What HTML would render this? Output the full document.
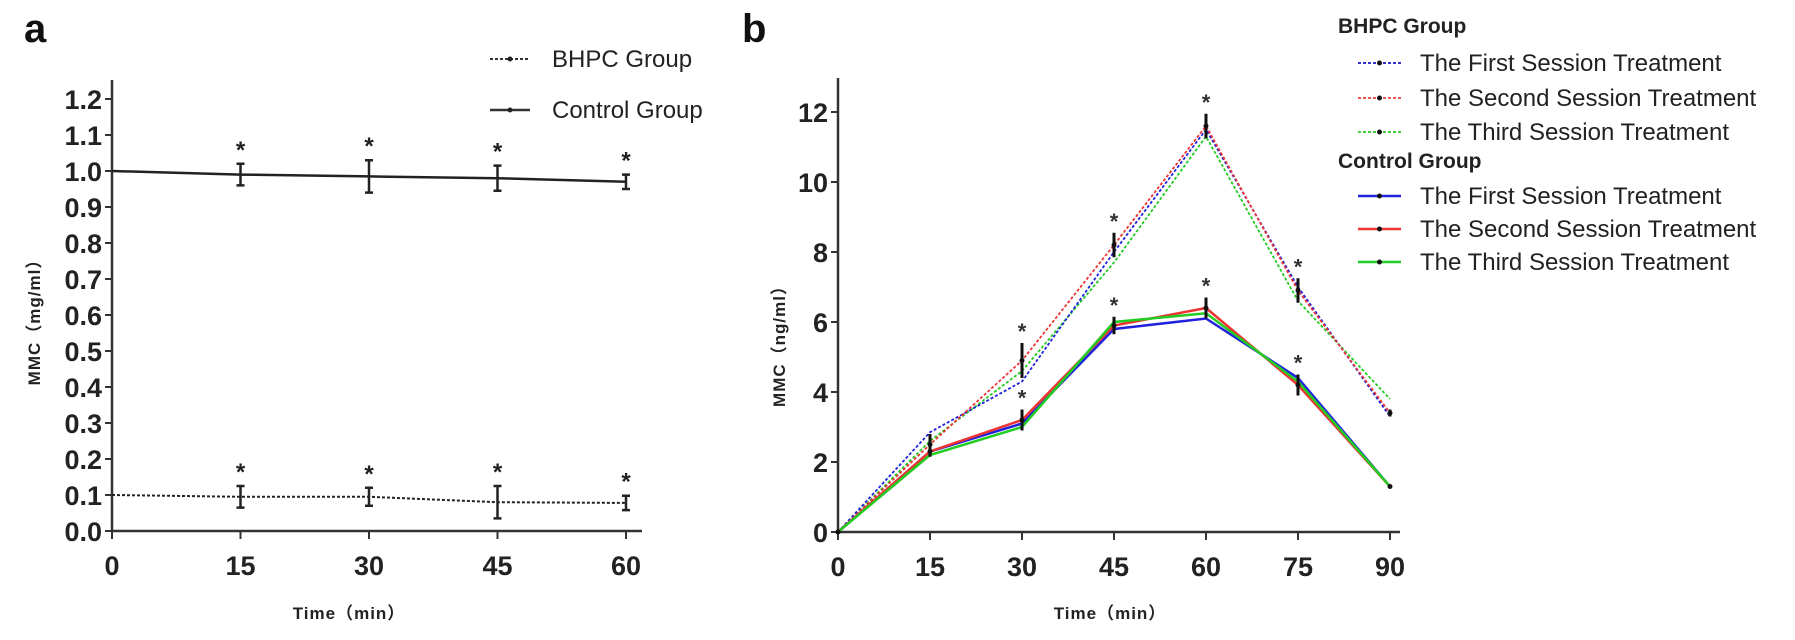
<!DOCTYPE html>
<html><head><meta charset="utf-8"><style>
html,body{margin:0;padding:0;background:#fff;}
svg{display:block;}
.tk{font-family:"Liberation Sans Narrow","Liberation Sans",sans-serif;font-weight:bold;font-size:27px;fill:#222;}
.ttl{font-family:"Liberation Sans","Noto Sans CJK SC",sans-serif;font-weight:bold;font-size:17px;fill:#222;letter-spacing:1px;}
.lg{font-family:"Liberation Sans Narrow","Liberation Sans",sans-serif;font-size:24px;fill:#222;}
.lgb{font-family:"Liberation Sans Narrow","Liberation Sans",sans-serif;font-size:21px;font-weight:bold;fill:#222;}
.pl{font-family:"Liberation Sans",sans-serif;font-weight:bold;font-size:40px;fill:#111;}
</style></head><body>
<svg id="chart" width="1795" height="640" viewBox="0 0 1795 640" xmlns="http://www.w3.org/2000/svg">
<text class="pl" x="24" y="42">a</text>
<text class="pl" x="742" y="42">b</text>
<g id="pa"></g>
<g id="pb"></g>
</svg>
<script>
// ---------- Panel A data ----------
const aTimes = [0, 15, 30, 45, 60];
const aYTicks = [0.0,0.1,0.2,0.3,0.4,0.5,0.6,0.7,0.8,0.9,1.0,1.1,1.2];
const aControl = [1.0, 0.99, 0.985, 0.98, 0.97];
const aControlErr = [0, 0.03, 0.045, 0.035, 0.02];
const aBhpc = [0.1, 0.095, 0.095, 0.08, 0.078];
const aBhpcErr = [0, 0.03, 0.025, 0.045, 0.02];
const aStars = [false, true, true, true, true];
// ---------- Panel B data ----------
const bTimes = [0, 15, 30, 45, 60, 75, 90];
const bYTicks = [0, 2, 4, 6, 8, 10, 12];
const bBhpc1 = [0, 2.85, 4.3, 8.0, 11.5, 7.0, 3.3];
const bBhpc2 = [0, 2.5, 4.9, 8.2, 11.6, 6.9, 3.4];
const bBhpc3 = [0, 2.6, 4.6, 7.7, 11.3, 6.6, 3.8];
const bCtrl1 = [0, 2.3, 3.1, 5.8, 6.1, 4.4, 1.3];
const bCtrl2 = [0, 2.3, 3.2, 5.9, 6.4, 4.2, 1.3];
const bCtrl3 = [0, 2.2, 3.0, 6.0, 6.25, 4.3, 1.3];
const bBhpcErr = [0, 0.3, 0.5, 0.35, 0.35, 0.35, 0.1];
const bCtrlErr = [0, 0.15, 0.3, 0.25, 0.3, 0.3, 0.05];
const bBhpcStars = [false, false, true, true, true, true, false];
const bCtrlStars = [false, false, true, true, true, true, false];

const NS = "http://www.w3.org/2000/svg";
function mk(parent, tag, attrs, text) {
  const e = document.createElementNS(NS, tag);
  for (const k in attrs) e.setAttribute(k, attrs[k]);
  if (text !== undefined) e.textContent = text;
  parent.appendChild(e);
  return e;
}

// ---------- Panel A ----------
(function(){
  const g = document.getElementById('pa');
  const X0 = 112, XS = 128.5/15, Y0 = 531, YS = 360;
  const xA = t => X0 + t * XS;
  const yA = v => Y0 - v * YS;
  let e = mk(g, 'line', {x1:X0, y1:80, x2:X0, y2:Y0, stroke:'#333','stroke-width':2.5});
   
  e = mk(g, 'line', {x1:X0, y1:Y0, x2:642, y2:Y0, stroke:'#333','stroke-width':2.5});
   
  aYTicks.forEach(v => {
    mk(g, 'line', {x1:X0-7, y1:yA(v), x2:X0, y2:yA(v), stroke:'#333','stroke-width':2});
    const t = mk(g, 'text', {class:'tk', x:X0-10, y:yA(v)+10, 'text-anchor':'end'}, v.toFixed(1));
     
  });
  aTimes.forEach(tm => {
    mk(g, 'line', {x1:xA(tm), y1:Y0, x2:xA(tm), y2:Y0+8, stroke:'#333','stroke-width':2});
    const t = mk(g, 'text', {class:'tk', x:xA(tm), y:Y0+44, 'text-anchor':'middle'}, String(tm));
     
  });
  let t = mk(g, 'text', {class:'ttl', x:349, y:619, 'text-anchor':'middle'}, 'Time（min）');
   
  t = mk(g, 'text', {class:'ttl', x:0, y:0, 'text-anchor':'middle', transform:'translate(40,318) rotate(-90)'}, 'MMC（mg/ml）');
   

  function series(vals, errs, dash, name) {
    const pts = vals.map((v,i) => xA(aTimes[i]) + ',' + yA(v)).join(' ');
    const pl = mk(g, 'polyline', {points:pts, fill:'none', stroke:'#222','stroke-width':dash?2:2.5,'stroke-dasharray':dash?'3,2':'none'});
     
    vals.forEach((v,i) => {
      if (errs[i] > 0) {
        const x = xA(aTimes[i]);
        const eb = mk(g, 'path', {d:`M${x},${yA(v+errs[i])}V${yA(v-errs[i])}M${x-4},${yA(v+errs[i])}h8M${x-4},${yA(v-errs[i])}h8`, stroke:'#222','stroke-width':2.5, fill:'none'});
         
      }
      if (aStars[i]) {
        const s = mk(g, 'text', {x:xA(aTimes[i]), y:yA(v+errs[i])-6, 'text-anchor':'middle', 'font-family':'Liberation Sans', 'font-size':'24', 'font-weight':'bold', fill:'#222'}, '*');
         
      }
    });
  }
  series(aControl, aControlErr, false, 'control');
  series(aBhpc, aBhpcErr, true, 'bhpc');

  // legend
  let l = mk(g, 'line', {x1:490, y1:59, x2:530, y2:59, stroke:'#333','stroke-width':2,'stroke-dasharray':'3,2'});
   
  mk(g, 'circle', {cx:510, cy:59, r:2.5, fill:'#222'});
  t = mk(g, 'text', {class:'lg', x:552, y:67}, 'BHPC Group');
   
  l = mk(g, 'line', {x1:490, y1:110, x2:530, y2:110, stroke:'#333','stroke-width':2.5});
   
  mk(g, 'circle', {cx:510, cy:110, r:2.5, fill:'#222'});
  t = mk(g, 'text', {class:'lg', x:552, y:118}, 'Control Group');
   
})();

// ---------- Panel B ----------
(function(){
  const g = document.getElementById('pb');
  const X0 = 838, XS = 92/15, Y0 = 532, YS = 35.0;
  const xB = t => X0 + t * XS;
  const yB = v => Y0 - v * YS;
  let e = mk(g, 'line', {x1:X0, y1:78, x2:X0, y2:Y0, stroke:'#333','stroke-width':2.5});
   
  e = mk(g, 'line', {x1:X0, y1:Y0, x2:1400, y2:Y0, stroke:'#333','stroke-width':2.5});
   
  bYTicks.forEach(v => {
    mk(g, 'line', {x1:X0-7, y1:yB(v), x2:X0, y2:yB(v), stroke:'#333','stroke-width':2});
    const t = mk(g, 'text', {class:'tk', x:X0-10, y:yB(v)+10, 'text-anchor':'end'}, String(v));
     
  });
  bTimes.forEach(tm => {
    mk(g, 'line', {x1:xB(tm), y1:Y0, x2:xB(tm), y2:Y0+8, stroke:'#333','stroke-width':2});
    const t = mk(g, 'text', {class:'tk', x:xB(tm), y:Y0+44, 'text-anchor':'middle'}, String(tm));
     
  });
  let t = mk(g, 'text', {class:'ttl', x:1110, y:619, 'text-anchor':'middle'}, 'Time（min）');
   
  t = mk(g, 'text', {class:'ttl', x:0, y:0, 'text-anchor':'middle', transform:'translate(785,342) rotate(-90)'}, 'MMC（ng/ml）');
   

  function series(vals, color, dash, name) {
    const pts = vals.map((v,i) => xB(bTimes[i]) + ',' + yB(v)).join(' ');
    const pl = mk(g, 'polyline', {points:pts, fill:'none', stroke:color,'stroke-width':dash?1.8:2.5,'stroke-dasharray':dash?'3,2':'none'});
     
  }
  function errs(vals, err, stars, name) {
    vals.forEach((v,i) => {
      const x = xB(bTimes[i]);
      if (err[i] > 0) {
        const eb = mk(g, 'path', {d:`M${x},${yB(v+err[i])}V${yB(v-err[i])}`, stroke:'#111','stroke-width':3, fill:'none'});
         
      }
      mk(g, 'circle', {cx:x, cy:yB(v), r:2.5, fill:'#111'});
      if (stars[i]) {
        const s = mk(g, 'text', {x:x, y:yB(v+err[i])-4, 'text-anchor':'middle', 'font-family':'Liberation Sans', 'font-size':'22', 'font-weight':'bold', fill:'#333'}, '*');
         
      }
    });
  }
  series(bBhpc3, '#22cc22', true, 'bhpc-third');
  series(bBhpc1, '#2222dd', true, 'bhpc-first');
  series(bBhpc2, '#ee3333', true, 'bhpc-second');
  series(bCtrl1, '#2222dd', false, 'control-first');
  series(bCtrl2, '#ee3333', false, 'control-second');
  series(bCtrl3, '#22cc22', false, 'control-third');
  errs(bBhpc2, bBhpcErr, bBhpcStars, 'bhpc');
  errs(bCtrl2, bCtrlErr, bCtrlStars, 'control');

  // legend
  const LX1 = 1358, LX2 = 1401, TX = 1420;
  t = mk(g, 'text', {class:'lgb', x:1338, y:33}, 'BHPC Group');
   
  t = mk(g, 'text', {class:'lgb', x:1338, y:168}, 'Control Group');
   
  const entries = [
    [63, '#3333cc', true, 'The First Session Treatment', 'legend-bhpc-first'],
    [98, '#ee5555', true, 'The Second Session Treatment', 'legend-bhpc-second'],
    [132, '#44cc44', true, 'The Third Session Treatment', 'legend-bhpc-third'],
    [196, '#2222dd', false, 'The First Session Treatment', 'legend-control-first'],
    [229, '#ee3333', false, 'The Second Session Treatment', 'legend-control-second'],
    [262, '#22cc22', false, 'The Third Session Treatment', 'legend-control-third']
  ];
  entries.forEach(en => {
    const l = mk(g, 'line', {x1:LX1, y1:en[0], x2:LX2, y2:en[0], stroke:en[1], 'stroke-width':en[2]?2:2.5, 'stroke-dasharray':en[2]?'3,2':'none'});
     
    mk(g, 'circle', {cx:(LX1+LX2)/2, cy:en[0], r:2.5, fill:'#111'});
    const tt = mk(g, 'text', {class:'lg', x:TX, y:en[0]+8}, en[3]);
     
  });
})();
</script>
</body></html>
